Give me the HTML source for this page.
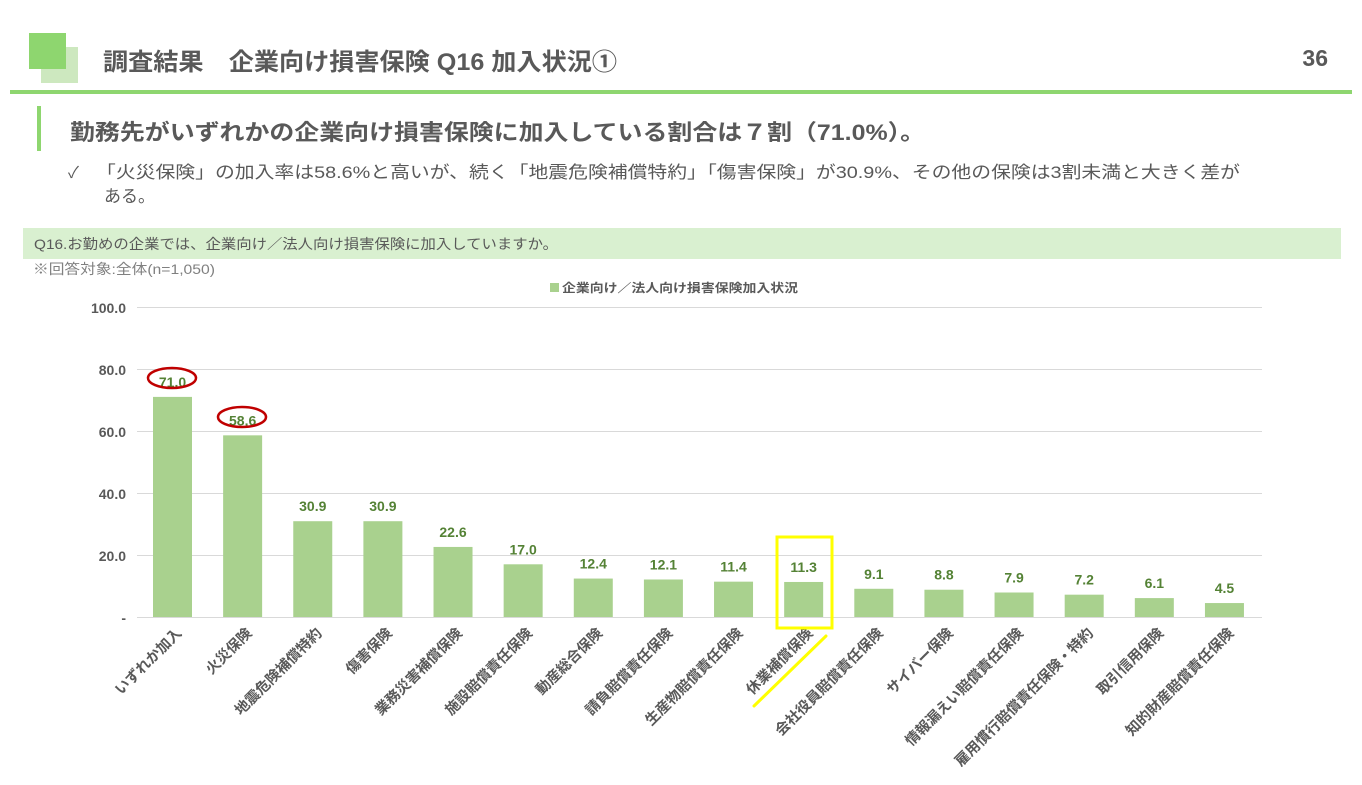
<!DOCTYPE html>
<html><head><meta charset="utf-8"><style>
body{margin:0;width:1362px;height:785px;background:#fff;overflow:hidden;font-family:"Liberation Sans","Noto Sans CJK JP",sans-serif;}
</style></head><body>
<svg width="1362" height="785" xmlns="http://www.w3.org/2000/svg" style="position:absolute;left:0;top:0;font-family:'Liberation Sans','Noto Sans CJK JP',sans-serif">
<rect x="41" y="47" width="37" height="36" fill="#cde8bf"/>
<rect x="29" y="33" width="37" height="36" fill="#8ed66f"/>
<text x="103" y="70" font-size="24" font-weight="bold" fill="#595959" textLength="514" lengthAdjust="spacingAndGlyphs">調査結果　企業向け損害保険 Q16 加入状況①</text>
<text x="1328" y="66" font-size="23" font-weight="bold" fill="#595959" text-anchor="end">36</text>
<rect x="10" y="90" width="1342" height="4" fill="#8ed66f"/>
<rect x="37" y="106" width="4" height="45" fill="#8ed66f"/>
<text x="70" y="140" font-size="22" font-weight="bold" fill="#595959" textLength="855" lengthAdjust="spacingAndGlyphs">勤務先がいずれかの企業向け損害保険に加入している割合は７割（71.0%）。</text>
<text x="68" y="178" font-size="16" fill="#595959">✓</text>
<text x="96" y="178" font-size="17" fill="#595959" textLength="1144" lengthAdjust="spacingAndGlyphs">「火災保険」の加入率は58.6%と高いが、続く「地震危険補償特約」「傷害保険」が30.9%、その他の保険は3割未満と大きく差が</text>
<text x="104" y="202" font-size="17" fill="#595959">ある。</text>
<rect x="23" y="228" width="1318" height="31" fill="#d9f0d0"/>
<text x="34" y="249" font-size="14" fill="#595959" textLength="524" lengthAdjust="spacingAndGlyphs">Q16.お勤めの企業では、企業向け／法人向け損害保険に加入していますか。</text>
<text x="33" y="274" font-size="14" fill="#808080" textLength="182" lengthAdjust="spacingAndGlyphs">※回答対象:全体(n=1,050)</text>
<rect x="550" y="283" width="9" height="9" fill="#a9d18e"/>
<text x="562" y="292" font-size="12" font-weight="bold" fill="#595959" textLength="236" lengthAdjust="spacingAndGlyphs">企業向け／法人向け損害保険加入状況</text>
<g stroke="#d9d9d9" stroke-width="1">
<line x1="137" y1="307.5" x2="1262" y2="307.5"/>
<line x1="137" y1="369.5" x2="1262" y2="369.5"/>
<line x1="137" y1="431.5" x2="1262" y2="431.5"/>
<line x1="137" y1="493.5" x2="1262" y2="493.5"/>
<line x1="137" y1="555.5" x2="1262" y2="555.5"/>
<line x1="137" y1="617.5" x2="1262" y2="617.5"/>
</g>
<g font-size="14" font-weight="bold" fill="#595959" text-anchor="end">
<text x="126" y="313">100.0</text><text x="126" y="375">80.0</text><text x="126" y="437">60.0</text><text x="126" y="499">40.0</text><text x="126" y="561">20.0</text><text x="126" y="623">-</text>
</g>
<g id="bars"></g>
<ellipse cx="172" cy="378" rx="24" ry="10" fill="none" stroke="#c00000" stroke-width="2.5"/>
<ellipse cx="242" cy="417" rx="24" ry="10" fill="none" stroke="#c00000" stroke-width="2.5"/>
<rect x="777" y="537" width="55" height="91" fill="none" stroke="#ffff00" stroke-width="3"/>
<line x1="826" y1="636" x2="754" y2="706" stroke="#ffff00" stroke-width="3" stroke-linecap="round"/>
</svg>
<script>
var d=[["いずれか加入",71.0],["火災保険",58.6],["地震危険補償特約",30.9],["傷害保険",30.9],["業務災害補償保険",22.6],["施設賠償責任保険",17.0],["動産総合保険",12.4],["請負賠償責任保険",12.1],["生産物賠償責任保険",11.4],["休業補償保険",11.3],["会社役員賠償責任保険",9.1],["サイバー保険",8.8],["情報漏えい賠償責任保険",7.9],["雇用慣行賠償責任保険・特約",7.2],["取引信用保険",6.1],["知的財産賠償責任保険",4.5]];
var g=document.getElementById('bars'),s='';
d.forEach(function(e,i){var c=172.5+i*70.13,h=e[1]*3.1,y=617-h;
s+='<rect x="'+(c-19.5)+'" y="'+y+'" width="39" height="'+h+'" fill="#a9d18e"/>';
s+='<text x="'+c+'" y="'+(y-10)+'" font-size="14" font-weight="bold" fill="#548235" text-anchor="middle">'+e[1].toFixed(1)+'</text>';
s+='<text transform="translate('+(c+10)+',634) rotate(-45)" font-size="14.5" font-weight="bold" fill="#595959" text-anchor="end">'+e[0]+'</text>';});
g.innerHTML=s;
</script>
</body></html>
